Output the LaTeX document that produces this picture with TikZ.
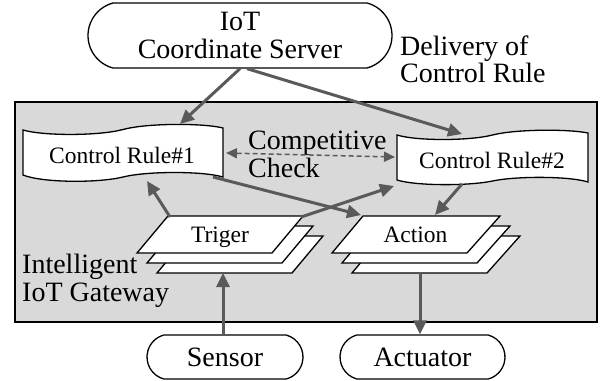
\documentclass[tikz,border=0pt]{standalone}
\usepackage{fontspec}
\setmainfont{Liberation Serif}
\usetikzlibrary{arrows.meta,shapes.misc}
\definecolor{arrgray}{HTML}{5A5A5A}
\definecolor{boxgray}{HTML}{D9D9D9}
\begin{document}
\begin{tikzpicture}[x=1pt,y=-1pt,
  big/.style={font=\fontsize{28}{28}\selectfont},
  small/.style={font=\fontsize{23.5}{24}\selectfont},
  lbl/.style={big,inner sep=0pt,anchor=base west},
  arr/.style={draw=arrgray,line width=3pt,-{Triangle[length=14pt,width=13pt]}},
  dasharr/.style={draw=arrgray,line width=1.5pt,dash pattern=on 5pt off 3pt,
    {Triangle[length=11pt,width=10pt]}-{Triangle[length=11pt,width=10pt]}},
  term/.style={draw,line width=1.3pt,rounded rectangle,rounded rectangle arc length=150,
    fill=white,big,inner sep=0pt},
  layer/.style={draw,line width=1.3pt,fill=white,line join=miter},
  tapeline/.style={draw,line width=1.3pt,fill=white},
  gwbox/.style={draw,line width=1.3pt,fill=boxgray}
]
\useasboundingbox (0,0) rectangle (610,380);

% gateway box
\path[gwbox] (15,102) rectangle (597,322);

% terminals
\node[term, minimum width=304pt, minimum height=65pt, align=center] (srv) at (240,35.5) {IoT\\Coordinate Server};
\node[term, minimum width=156pt, minimum height=44pt] (sen) at (225,357) {Sensor};
\node[term, minimum width=165pt, minimum height=44pt] (act) at (422.5,357) {Actuator};

% control rule tapes
\path[tapeline] (23,130) .. controls (43,136) and (99,136) .. (123,129.5)
  .. controls (147,123) and (203,123) .. (223,128) -- (223,177)
  .. controls (203,171) and (147,171) .. (123,177)
  .. controls (99,183) and (43,183) .. (23,175) -- cycle;
\node[small, anchor=base] (cr1) at (122,163) {Control Rule\#1};

\path[tapeline] (397,135) .. controls (416,141) and (469,141) .. (492.5,135)
  .. controls (516,129) and (569,129) .. (588,133) -- (588,182)
  .. controls (569,176) and (516,176) .. (492.5,181)
  .. controls (469,186) and (416,186) .. (397,180) -- cycle;
\node[small, anchor=base] (cr2) at (492,168) {Control Rule\#2};

% stacked parallelograms
\foreach \d in {20,10,0} {
  \path[layer] ({168+\d},{216+\d}) -- ({303+\d},{216+\d}) -- ({272+\d},{253+\d}) -- ({137+\d},{253+\d}) -- cycle;
  \path[layer] ({363+\d},{216+\d}) -- ({500+\d},{216+\d}) -- ({467+\d},{253+\d}) -- ({332+\d},{253+\d}) -- cycle;
}
\node[small, anchor=base] (trig) at (220,242) {Triger};
\node[small, anchor=base] (actn) at (415.5,242) {Action};

% labels
\node[lbl] (cc1) at (248,149) {Competitive};
\node[lbl] (cc2) at (248,177) {Check};
\node[lbl] (dl1) at (400,55) {Delivery of};
\node[lbl] (dl2) at (400,82) {Control Rule};
\node[lbl] (ig1) at (22,273) {Intelligent};
\node[lbl] (ig2) at (22,301) {IoT Gateway};

% connector end points
\coordinate (cr1in) at (180,124);
\coordinate (cr2in) at (462,134);
\coordinate (cr1r) at (226,153);
\coordinate (cr2l) at (395,157);
\coordinate (cr1out) at (213,177);
\coordinate (actin1) at (361,215);
\coordinate (trigTR) at (301,217);
\coordinate (cr2bl) at (394,186);
\coordinate (trigTL) at (170,217);
\coordinate (cr1bl) at (147,181);
\coordinate (cr2out) at (462,184);
\coordinate (actin2) at (435,215);
\coordinate (trigbot) at (223,273);
\coordinate (actbot) at (420,273);

% connectors
\draw[arr] (srv.south) -- (cr1in);
\draw[arr] ([xshift=7pt]srv.south) -- (cr2in);
\draw[dasharr] (cr1r) -- (cr2l);
\draw[arr] (cr1out) -- (actin1);
\draw[arr] (trigTR) -- (cr2bl);
\draw[arr] (trigTL) -- (cr1bl);
\draw[arr] (cr2out) -- (actin2);
\draw[arr] (sen.north -| trigbot) -- (trigbot);
\draw[arr] (actbot) -- (act.north -| actbot);
\end{tikzpicture}
\end{document}
